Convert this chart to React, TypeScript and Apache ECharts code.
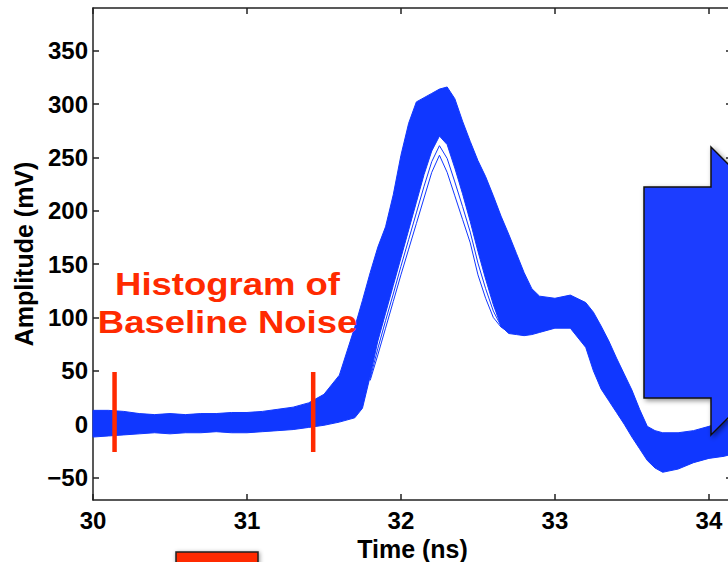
import React, { useEffect, useRef } from 'react';
import * as echarts from 'echarts';

// ---- axis ranges & ticks ----
const X_MIN = 30;
const X_MAX = 34.15;
const Y_MIN = -71;
const Y_MAX = 390;
const X_TICKS = [30, 31, 32, 33, 34];
const Y_TICKS = [-50, 0, 50, 100, 150, 200, 250, 300, 350];

// ---- waveform envelope (time in ns, amplitude in mV) ----
const TIMES = [30.0, 30.1, 30.2, 30.3, 30.4, 30.5, 30.6, 30.7, 30.8, 30.9, 31.0, 31.1, 31.2, 31.3, 31.4, 31.5, 31.6, 31.7, 31.75, 31.8, 31.85, 31.9, 31.95, 32.0, 32.05, 32.1, 32.15, 32.2, 32.25, 32.3, 32.35, 32.4, 32.45, 32.5, 32.55, 32.6, 32.65, 32.7, 32.75, 32.8, 32.85, 32.9, 33.0, 33.1, 33.2, 33.25, 33.3, 33.35, 33.4, 33.45, 33.5, 33.55, 33.6, 33.65, 33.7, 33.8, 33.9, 34.0, 34.1, 34.15];
const UPPER = [13, 13, 12, 10, 9, 10, 9, 10, 10, 11, 11, 12, 14, 16, 20, 28, 46, 91, 116, 142, 166, 185, 215, 252, 282, 302, 306, 310, 314, 316, 305, 284, 265, 247, 232, 214, 195, 178, 160, 142, 127, 120, 118, 121, 114, 105, 92, 78, 62, 47, 32, 14, -2, -6, -8, -8, -6, -2, 3, 5];
const LOWER = [-12, -11, -10, -9, -8, -9, -8, -8, -7, -8, -8, -7, -6, -5, -3, -1, 2, 6, 15, 45, 78, 104, 130, 156, 182, 208, 234, 256, 270, 262, 240, 216, 190, 162, 136, 112, 92, 85, 84, 83, 84, 86, 90, 90, 72, 50, 33, 22, 11, 0, -12, -23, -34, -41, -45, -42, -36, -32, -30, -28];

// ---- individual late traces visible under the peak ----
const INNER_T = [31.8, 31.85, 31.9, 31.95, 32.0, 32.05, 32.1, 32.15, 32.2, 32.25, 32.3, 32.35, 32.4, 32.45, 32.5, 32.55, 32.6, 32.65, 32.7];
const TRACE_LATE_1 = [41, 65, 90, 115, 140, 164, 188, 212, 236, 252, 236, 214, 192, 170, 140, 118, 100, 91, 86];
const TRACE_LATE_2 = [43, 71, 97, 122, 148, 173, 198, 223, 246, 261, 249, 227, 204, 180, 151, 127, 106, 92, 86];

// ---- baseline noise window markers ----
const NOISE_WINDOW = [30.14, 31.43];
const NOISE_MARK_RANGE = [-26, 49];

const BLUE = '#1037ff';
const RED = '#ff2a00';
const FONT = 'Liberation Sans, Arial, Helvetica, sans-serif';

export default function App() {
  const ref = useRef<HTMLDivElement>(null);

  useEffect(() => {
    if (!ref.current) return;
    const chart = echarts.init(ref.current, undefined, { renderer: 'svg' });
    const minus = (v: number) => String(v).replace('-', '\u2212');
    const axisLine = { show: true, onZero: false, lineStyle: { color: '#222', width: 1.5 } };
    const tickStyle = { color: '#222', width: 1.5 };

    const option: any = {
      animation: false,
      backgroundColor: '#ffffff',
      grid: { left: 93, top: 8, width: 639, height: 492, outerBoundsMode: 'none' },
      xAxis: [
        {
          type: 'value', min: X_MIN, max: X_MAX, position: 'bottom',
          name: 'Time (ns)', nameLocation: 'middle', nameGap: 32,
          nameTextStyle: { fontFamily: FONT, fontWeight: 'bold', fontSize: 25, color: '#000' },
          axisLine,
          axisTick: { show: true, inside: true, length: 6, customValues: X_TICKS, lineStyle: tickStyle },
          axisLabel: { customValues: X_TICKS, fontFamily: FONT, fontWeight: 'bold', fontSize: 24, color: '#000', margin: 8 },
          splitLine: { show: false },
        },
        {
          type: 'value', min: X_MIN, max: X_MAX, position: 'top',
          axisLine,
          axisTick: { show: true, inside: true, length: 6, customValues: X_TICKS, lineStyle: tickStyle },
          axisLabel: { show: false },
          splitLine: { show: false },
        },
      ],
      yAxis: [
        {
          type: 'value', min: Y_MIN, max: Y_MAX, position: 'left',
          name: 'Amplitude (mV)', nameLocation: 'middle', nameGap: 56,
          nameTextStyle: { fontFamily: FONT, fontWeight: 'bold', fontSize: 25, color: '#000' },
          axisLine,
          axisTick: { show: true, inside: true, length: 6, customValues: Y_TICKS, lineStyle: tickStyle },
          axisLabel: { customValues: Y_TICKS, formatter: minus, fontFamily: FONT, fontWeight: 'bold', fontSize: 24, color: '#000', margin: 5 },
          splitLine: { show: false },
        },
        {
          type: 'value', min: Y_MIN, max: Y_MAX, position: 'right',
          axisLine,
          axisTick: { show: true, inside: true, length: 6, customValues: Y_TICKS, lineStyle: tickStyle },
          axisLabel: { show: false },
          splitLine: { show: false },
        },
      ],
      series: [
        {
          type: 'custom',
          coordinateSystem: 'cartesian2d',
          data: [[X_MIN, 0]],
          z: 2,
          renderItem: (_p: any, api: any) => {
            const pts: number[][] = [];
            for (let i = 0; i < TIMES.length; i++) pts.push(api.coord([TIMES[i], UPPER[i]]));
            for (let i = TIMES.length - 1; i >= 0; i--) pts.push(api.coord([TIMES[i], LOWER[i]]));
            return { type: 'polygon', shape: { points: pts }, style: { fill: BLUE, stroke: BLUE, lineWidth: 1 } };
          },
        },
        {
          type: 'line', z: 3, symbol: 'none', silent: true,
          data: INNER_T.map((t, i) => [t, TRACE_LATE_1[i]]),
          lineStyle: { color: BLUE, width: 1 },
        },
        {
          type: 'line', z: 3, symbol: 'none', silent: true,
          data: INNER_T.map((t, i) => [t, TRACE_LATE_2[i]]),
          lineStyle: { color: BLUE, width: 1 },
        },
        ...NOISE_WINDOW.map((t) => ({
          type: 'line', z: 5, symbol: 'none', silent: true,
          data: [[t, NOISE_MARK_RANGE[0]], [t, NOISE_MARK_RANGE[1]]],
          lineStyle: { color: RED, width: 4.5 },
        })),
      ],
      graphic: [
        {
          type: 'text', x: 227.5, y: 284, scaleX: 1.14, z: 50,
          style: { text: 'Histogram of', font: `bold 32px ${FONT}`, fill: RED, textAlign: 'center', textVerticalAlign: 'middle' },
        },
        {
          type: 'text', x: 227.5, y: 322, scaleX: 1.14, z: 50,
          style: { text: 'Baseline Noise', font: `bold 32px ${FONT}`, fill: RED, textAlign: 'center', textVerticalAlign: 'middle' },
        },
        {
          type: 'polygon', z: 60,
          shape: { points: [[644, 187], [711, 187], [711, 147], [855, 291], [711, 435], [711, 398], [644, 398]] },
          style: { fill: '#1a3cff', stroke: '#111', lineWidth: 1.5, shadowBlur: 5, shadowColor: 'rgba(0,0,0,0.45)', shadowOffsetX: 2, shadowOffsetY: 2 },
        },
        {
          type: 'rect', z: 60,
          shape: { x: 176, y: 552, width: 82, height: 30 },
          style: { fill: RED, stroke: '#222', lineWidth: 1.5, shadowBlur: 4, shadowColor: 'rgba(0,0,0,0.4)', shadowOffsetX: 1, shadowOffsetY: 1 },
        },
      ],
    };

    chart.setOption(option);
    return () => chart.dispose();
  }, []);

  return (
    <div style={{ position: 'fixed', left: 0, top: 0, width: 728, height: 562, overflow: 'hidden', background: '#fff' }}>
      <div ref={ref} style={{ width: 740, height: 562 }} />
    </div>
  );
}
